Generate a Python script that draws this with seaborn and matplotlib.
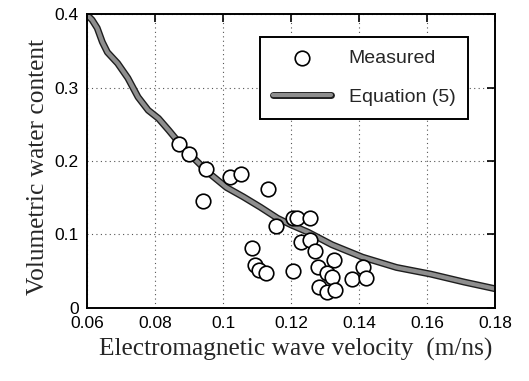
import matplotlib
matplotlib.use("Agg")
import matplotlib.pyplot as plt
import matplotlib.patheffects as pe
import pandas as pd
import seaborn as sns
from matplotlib.ticker import FuncFormatter

# Data
velocity = [0.0871, 0.0900, 0.0950, 0.0941, 0.1020, 0.1053, 0.1132, 0.1156, 0.1085, 0.1094,
            0.1106, 0.1126, 0.1206, 0.1218, 0.1256, 0.1230, 0.1256, 0.1270, 0.1206, 0.1280,
            0.1326, 0.1306, 0.1320, 0.1282, 0.1306, 0.1330, 0.1379, 0.1412, 0.1420]
water = [0.223, 0.209, 0.189, 0.145, 0.178, 0.182, 0.162, 0.111, 0.081, 0.058,
         0.052, 0.047, 0.123, 0.122, 0.122, 0.089, 0.093, 0.078, 0.050, 0.055,
         0.065, 0.047, 0.042, 0.029, 0.021, 0.024, 0.039, 0.055, 0.040]

eq_velocity = [0.060, 0.0615, 0.063, 0.0645, 0.066, 0.069, 0.072, 0.075, 0.078, 0.081,
               0.084, 0.0865, 0.090, 0.096, 0.101, 0.106, 0.111, 0.116, 0.120, 0.125,
               0.132, 0.141, 0.151, 0.161, 0.171, 0.180]
eq_water = [0.399, 0.392, 0.381, 0.362, 0.348, 0.333, 0.313, 0.287, 0.269, 0.258,
            0.242, 0.228, 0.210, 0.183, 0.164, 0.151, 0.137, 0.122, 0.113, 0.103,
            0.086, 0.069, 0.055, 0.046, 0.035, 0.026]

measured = pd.DataFrame({"v": velocity, "w": water})
equation = pd.DataFrame({"v": eq_velocity, "w": eq_water})

sns.set_style("white")
plt.rcParams["font.family"] = ["Liberation Sans", "DejaVu Sans"]

fig, ax = plt.subplots(figsize=(5.29, 3.81), dpi=100)
fig.subplots_adjust(left=0.1645, right=0.936, top=0.963, bottom=0.192)

# Equation curve: grey band with dark edges
sns.lineplot(equation, x="v", y="w", ax=ax, color="#8e8e8e", linewidth=3.0,
             label="Equation (5)", zorder=2,
             path_effects=[pe.Stroke(linewidth=5.0, foreground="#1e1e1e"), pe.Normal()])

# Measured points
sns.scatterplot(measured, x="v", y="w", ax=ax, s=110, facecolor="white",
                edgecolor="black", linewidth=1.2, label="Measured", zorder=3)

ax.set_xlim(0.06, 0.18)
ax.set_ylim(0, 0.4)
ax.set_xticks([0.06, 0.08, 0.10, 0.12, 0.14, 0.16, 0.18])
ax.set_yticks([0, 0.1, 0.2, 0.3, 0.4])
ax.xaxis.set_major_formatter(FuncFormatter(lambda x, p: f"{x:g}"))
ax.yaxis.set_major_formatter(FuncFormatter(lambda y, p: f"{y:g}"))
ax.tick_params(direction="in", length=6, width=1.2, top=True, right=True,
               labelsize=12.5, pad=6, colors="black")
ax.grid(True, linestyle=(0, (1, 3)), color="#555555", linewidth=0.8)

for s in ax.spines.values():
    s.set_linewidth(1.4)
    s.set_color("black")

ax.set_xlabel("Electromagnetic wave velocity  (m/ns)", family="Liberation Serif",
              fontsize=18.3, labelpad=5)
ax.set_ylabel("Volumetric water content", family="Liberation Serif",
              fontsize=18.3, labelpad=4)
ax.xaxis.label.set_x(0.512)
ax.yaxis.label.set_y(0.48)

handles, labels = ax.get_legend_handles_labels()
order = [labels.index("Measured"), labels.index("Equation (5)")]
leg = ax.legend([handles[i] for i in order], [labels[i] for i in order],
                loc="upper right", bbox_to_anchor=(0.934, 0.922), borderaxespad=0,
                fontsize=14, frameon=True, fancybox=False, edgecolor="black",
                framealpha=1, handlelength=3.0, borderpad=0.65, labelspacing=1.1,
                handletextpad=0.9)
leg.get_frame().set_linewidth(1.4)

plt.savefig("out.png", dpi=100)
